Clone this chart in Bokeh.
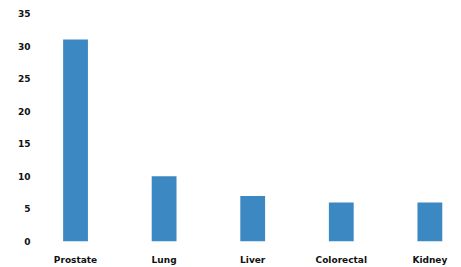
from bokeh.plotting import figure
from bokeh.models import Range1d, FixedTicker
from bokeh.embed import file_html
from bokeh.resources import INLINE

categories = ["Prostate", "Lung", "Liver", "Colorectal", "Kidney"]
values = [31, 10, 7, 6, 6]
y_ticks = [0, 5, 10, 15, 20, 25, 30, 35]

xs = list(range(len(categories)))

p = figure(width=461, height=267, output_backend="svg", toolbar_location=None,
           x_range=Range1d(-0.418, 4.357), y_range=Range1d(0, 35),
           min_border_left=38, min_border_right=0, min_border_top=13, min_border_bottom=26)

p.vbar(x=xs, top=values, width=0.28, bottom=0, color="#3c88c2", line_color=None)

p.outline_line_color = None
p.grid.grid_line_color = None
p.background_fill_color = "white"
p.border_fill_color = "white"

font = "DejaVu Sans"
for ax in (p.xaxis, p.yaxis):
    ax.axis_line_color = None
    ax.major_tick_line_color = None
    ax.minor_tick_line_color = None
    ax.major_tick_out = 0
    ax.major_tick_in = 0
    ax.minor_tick_out = 0
    ax.major_label_text_font = font
    ax.major_label_text_font_style = "bold"
    ax.major_label_text_font_size = "9px"
    ax.major_label_text_color = "#111111"

p.xaxis.ticker = FixedTicker(ticks=xs)
p.xaxis.major_label_overrides = {i: c for i, c in enumerate(categories)}
p.xaxis.major_label_standoff = 13
p.yaxis.ticker = FixedTicker(ticks=y_ticks)
p.yaxis.major_label_standoff = 8

open("out.html", "w").write(file_html(p, INLINE))
